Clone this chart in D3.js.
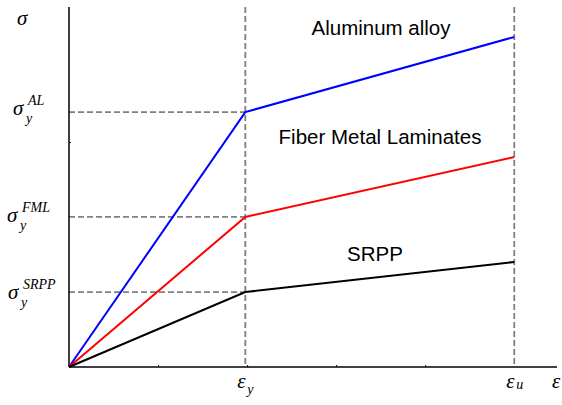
<!DOCTYPE html>
<html>
<head>
<meta charset="utf-8">
<script src="https://cdn.jsdelivr.net/npm/d3@7"></script>
<style>
  body { margin: 0; background: #fff; }
  .serif { font-family: 'Liberation Serif', 'Times New Roman', serif; font-style: italic; }
  .label { font-family: 'Liberation Sans', Arial, sans-serif; font-size: 20.5px; }
</style>
</head>
<body>
<div id="viz"></div>
<script>
// strain points: origin, yield strain, ultimate strain
const strains = [0, 1.98, 5.0];
const alStress = [0, 1.133, 1.467];
const fmlStress = [0, 0.667, 0.933];
const srppStress = [0, 0.333, 0.467];
const xTicks = [1, 2, 3, 4];
const yTicks = [1];

const series = [
  { name: 'Aluminum alloy', color: '#0000ff', values: alStress, sup: 'AL', labelAt: 1.476, labelX: 381, symX: 13, symDy: 3 },
  { name: 'Fiber Metal Laminates', color: '#ff0000', values: fmlStress, sup: 'FML', labelAt: 0.991, labelX: 380, symX: 7, symDy: 5 },
  { name: 'SRPP', color: '#000000', values: srppStress, sup: 'SRPP', labelAt: 0.471, labelX: 375, symX: 8, symDy: 7 },
];

const totalWidth = 562;
const totalHeight = 405;

const xScale = d3.scaleLinear().domain([0, 5.48]).range([69, 557]);
const yScale = d3.scaleLinear().domain([0, 1.6]).range([367, 7]);

const svg = d3.select('#viz')
  .append('svg')
  .attr('width', totalWidth)
  .attr('height', totalHeight);

// dashed guides
const dash = svg.append('g')
  .attr('stroke', '#808080')
  .attr('stroke-width', 1.8)
  .attr('stroke-dasharray', '6,3');

[strains[1], strains[2]].forEach((s) => {
  dash.append('line')
    .attr('x1', xScale(s)).attr('x2', xScale(s))
    .attr('y1', yScale(1.6)).attr('y2', yScale(0));
});

series.forEach((s) => {
  dash.append('line')
    .attr('x1', xScale(0)).attr('x2', xScale(strains[1]))
    .attr('y1', yScale(s.values[1])).attr('y2', yScale(s.values[1]));
});

// axes
const xAxis = svg.append('g')
  .attr('transform', `translate(0, ${yScale(0)})`)
  .call(d3.axisTop(xScale).tickValues(xTicks).tickSize(2).tickFormat(''));
xAxis.select('.domain').attr('d', `M${xScale(0)},0H${xScale(5.48)}`);

const yAxis = svg.append('g')
  .attr('transform', `translate(${xScale(0)}, 0)`)
  .call(d3.axisRight(yScale).tickValues(yTicks).tickSize(2).tickFormat(''));
yAxis.select('.domain').attr('d', `M0,${yScale(1.6)}V${yScale(0)}`);

svg.selectAll('.domain').attr('stroke', '#000').attr('stroke-width', 1.5);
svg.selectAll('.tick line').attr('stroke', '#000');

// stress-strain lines
const line = d3.line()
  .x((d, i) => xScale(strains[i]))
  .y((d) => yScale(d));

series.forEach((s) => {
  svg.append('path')
    .datum(s.values)
    .attr('fill', 'none')
    .attr('stroke', s.color)
    .attr('stroke-width', 2)
    .attr('d', line);

  svg.append('text')
    .attr('class', 'label')
    .attr('text-anchor', 'middle')
    .attr('x', s.labelX)
    .attr('y', yScale(s.labelAt))
    .text(s.name);

  // sigma_y^xx label
  const g = svg.append('g')
    .attr('class', 'serif')
    .attr('transform', `translate(${s.symX}, ${yScale(s.values[1]) + s.symDy})`);
  g.append('text').attr('font-size', 21).attr('x', 0).attr('y', 0).text('σ');
  g.append('text').attr('font-size', 14).attr('x', 13).attr('y', 8).text('y');
  g.append('text').attr('font-size', 14).attr('x', 15).attr('y', -10).text(s.sup);
});

// axis symbols
svg.append('text').attr('class', 'serif').attr('font-size', 21)
  .attr('x', 17).attr('y', 25).text('σ');

const epsLabels = [
  { v: strains[1], sub: 'y' },
  { v: strains[2], sub: 'u' },
];
epsLabels.forEach((e) => {
  const g = svg.append('g')
    .attr('class', 'serif')
    .attr('transform', `translate(${xScale(e.v) - 8}, 388)`);
  g.append('text').attr('font-size', 21).text('ε');
  g.append('text').attr('font-size', 14).attr('x', 10).attr('y', e.sub === 'y' ? 6 : 1).text(e.sub);
});
svg.append('text').attr('class', 'serif').attr('font-size', 21)
  .attr('x', 552).attr('y', 388).text('ε');
</script>
</body>
</html>
